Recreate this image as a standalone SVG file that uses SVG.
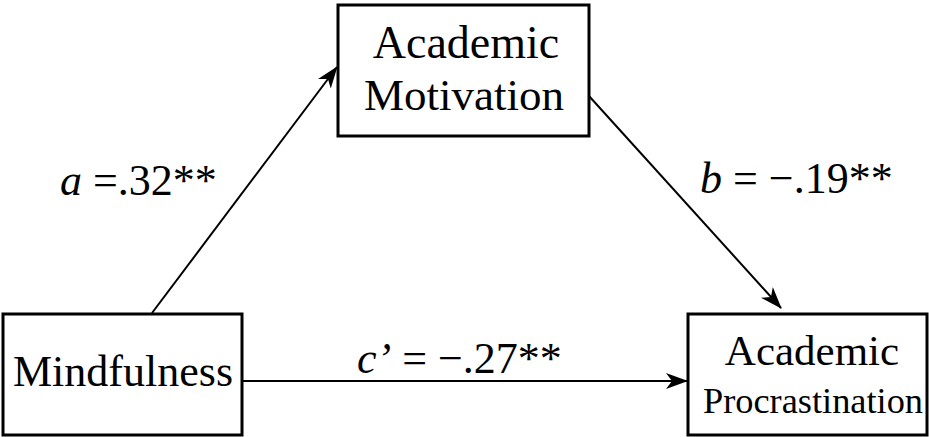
<svg xmlns="http://www.w3.org/2000/svg" width="929" height="437" viewBox="0 0 929 437">
<defs>
<marker id="ah" markerWidth="22" markerHeight="16" refX="21" refY="8" orient="auto" markerUnits="userSpaceOnUse" viewBox="0 0 22 16">
<path d="M0,0 L22,8 L0,16 L6,8 Z" fill="#000"/>
</marker>
</defs>
<style>
.box{fill:#fff;stroke:#000;stroke-width:3}
.con{stroke:#000;stroke-width:2;fill:none;marker-end:url(#ah)}
text{font-family:'Liberation Serif','DejaVu Serif',serif;fill:#000}
</style>
<rect width="929" height="437" fill="#fff"/>
<g id="connectors">
<line class="con" x1="152" y1="313" x2="337" y2="67"/>
<line class="con" x1="589" y1="96" x2="781" y2="308"/>
<line class="con" x1="243" y1="381" x2="687" y2="381"/>
</g>
<g id="academic-motivation">
<rect class="box" x="338" y="5" width="251" height="131"/>
<text x="466" y="58" font-size="46" text-anchor="middle">Academic</text>
<text x="464" y="110" font-size="45" text-anchor="middle">Motivation</text>
</g>
<g id="mindfulness">
<rect class="box" x="3" y="314" width="239" height="121"/>
<text x="123" y="386" font-size="44" text-anchor="middle" textLength="220" lengthAdjust="spacingAndGlyphs">Mindfulness</text>
</g>
<g id="academic-procrastination">
<rect class="box" x="688" y="314" width="239" height="121"/>
<text x="812" y="365" font-size="43" text-anchor="middle">Academic</text>
<text x="813" y="413" font-size="36" text-anchor="middle" textLength="220" lengthAdjust="spacingAndGlyphs">Procrastination</text>
</g>
<g id="labels" font-size="44">
<text x="60" y="195"><tspan font-style="italic">a</tspan> =.32**</text>
<text x="700" y="193"><tspan font-style="italic">b</tspan> = −.19**</text>
<text x="357" y="373"><tspan font-style="italic">c’</tspan> = −.27**</text>
</g>
</svg>
